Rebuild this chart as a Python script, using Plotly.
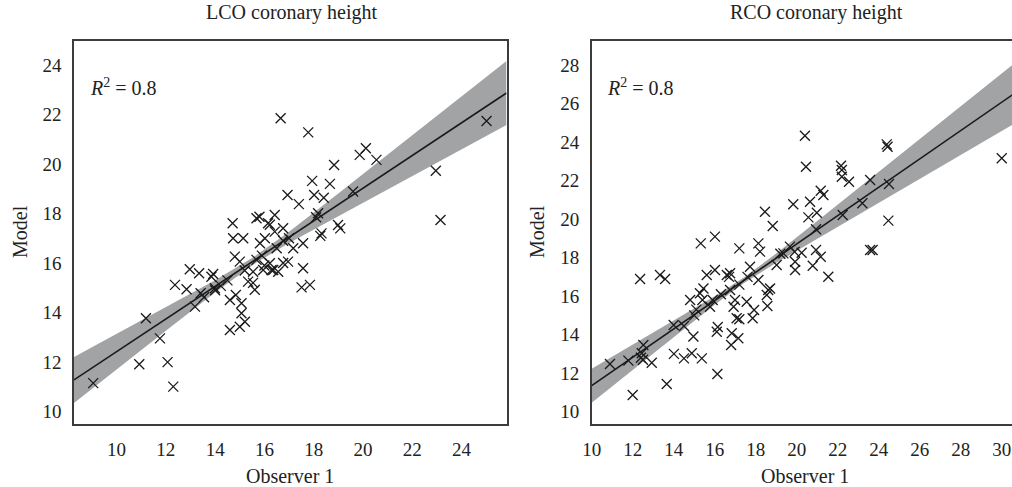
import plotly.graph_objects as go

# ---------------- data ----------------
lco_obs = [9.05, 10.92, 11.19, 11.76, 12.07, 12.30, 12.37, 12.84, 12.97, 13.35,
           13.18, 13.41, 13.55, 13.92, 13.85, 13.99, 14.23, 14.60, 14.60, 14.73,
           14.71, 14.80, 14.84, 15.00, 15.07, 15.07, 15.21, 15.14, 15.00, 15.34,
           15.61, 15.54, 15.68, 15.80, 15.95, 15.82, 16.02, 16.15, 16.22, 16.36,
           16.42, 16.42, 16.56, 16.66, 17.78, 25.02, 22.96, 23.15, 20.12, 19.87,
           20.55, 18.83, 17.94, 18.66, 19.60, 16.94, 17.40, 18.02, 18.41, 18.18,
           18.10, 16.22, 16.76, 18.99, 19.08, 18.32, 18.27, 16.96, 17.57, 17.17,
           16.76, 15.68, 16.76, 17.57, 16.29, 17.51, 17.85, 15.54, 16.00, 14.50,
           15.20, 15.90, 16.50, 17.00, 14.00]
lco_model = [11.15, 11.91, 13.77, 12.96, 12.00, 11.01, 15.12, 14.94, 15.75, 15.59,
             14.24, 14.78, 14.62, 15.56, 15.45, 14.98, 15.08, 13.30, 14.51, 17.00,
             17.61, 16.26, 14.71, 13.43, 14.38, 13.97, 13.63, 17.00, 16.06, 15.25,
             14.92, 15.65, 17.81, 17.87, 15.72, 16.80, 17.00, 17.61, 15.99, 15.72,
             17.94, 17.27, 15.65, 21.85, 21.28, 21.74, 19.73, 17.74, 20.64, 20.37,
             20.17, 19.96, 19.32, 19.20, 18.89, 18.75, 18.38, 18.75, 18.64, 18.01,
             17.85, 17.55, 17.41, 17.54, 17.40, 17.20, 17.10, 16.06, 16.80, 16.60,
             16.90, 16.13, 16.00, 15.79, 15.72, 15.02, 15.12, 15.20, 15.90, 15.30,
             15.70, 16.30, 16.60, 17.00, 14.90]

rco_obs = [10.89, 12.00, 11.79, 12.36, 12.44, 12.52, 12.40, 12.50, 12.93, 13.33,
           13.58, 13.66, 14.01, 14.50, 14.88, 15.37, 14.50, 14.96, 14.80, 15.00,
           15.32, 15.28, 15.45, 15.40, 15.61, 16.01, 16.01, 16.10, 16.15, 16.13,
           15.90, 15.77, 16.59, 16.70, 16.80, 16.83, 17.15, 16.99, 16.92, 17.07,
           17.20, 17.20, 16.75, 17.20, 17.56, 17.92, 17.85, 18.13, 18.21, 18.13,
           17.72, 18.45, 18.54, 18.57, 20.40, 20.45, 24.39, 24.43, 30.00, 22.16,
           22.20, 22.20, 22.55, 23.58, 24.50, 21.17, 21.30, 19.83, 20.65, 20.98,
           20.57, 23.20, 22.24, 24.47, 18.83, 20.94, 19.67, 19.35, 20.24, 20.94,
           21.17, 20.78, 21.54, 19.92, 19.92, 23.58, 23.70, 19.02, 18.61, 18.70,
           16.75, 19.90, 14.00, 15.10, 16.30, 17.60, 19.20]
rco_model = [12.48, 10.87, 12.65, 16.89, 13.03, 13.46, 12.80, 12.70, 12.54, 17.10,
             16.89, 11.44, 13.00, 12.77, 13.03, 12.77, 14.45, 13.90, 15.80, 15.00,
             18.74, 16.15, 16.40, 15.80, 17.10, 19.09, 17.36, 14.15, 14.40, 11.96,
             15.80, 15.45, 17.10, 17.00, 13.46, 14.07, 13.81, 15.80, 15.45, 14.85,
             14.80, 18.48, 16.32, 16.60, 15.71, 15.28, 14.85, 18.74, 18.31, 16.84,
             17.53, 20.38, 16.06, 15.49, 24.33, 22.72, 23.88, 23.76, 23.16, 22.77,
             22.55, 22.20, 21.94, 22.03, 21.82, 21.47, 21.25, 20.77, 20.90, 20.33,
             20.09, 20.82, 20.21, 19.92, 19.64, 19.47, 18.57, 18.22, 18.25, 18.40,
             18.05, 17.58, 17.01, 17.79, 17.36, 18.40, 18.40, 17.62, 16.32, 16.40,
             17.19, 18.30, 14.50, 15.30, 16.10, 17.00, 18.20]

# regression line and confidence band
lco_fit_x = [8.27, 10, 12, 14, 15.6, 17, 19, 21, 23, 25.83]
lco_fit_y = [11.28, 12.42, 13.74, 15.06, 16.12, 17.04, 18.36, 19.68, 21.00, 22.87]
lco_ci_hi = [12.21, 13.14, 14.21, 15.31, 16.27, 17.27, 18.81, 20.37, 21.94, 24.16]
lco_ci_lo = [10.35, 11.70, 13.27, 14.81, 15.97, 16.81, 17.91, 18.99, 20.06, 21.58]

rco_fit_x = [10, 12, 14, 16, 17.4, 19, 21, 23, 25, 27, 29, 30.8]
rco_fit_y = [11.35, 12.82, 14.29, 15.77, 16.80, 17.97, 19.45, 20.92, 22.39, 23.86, 25.33, 26.66]
rco_ci_hi = [12.23, 13.47, 14.72, 15.99, 16.95, 18.21, 19.90, 21.60, 23.30, 25.00, 26.70, 28.24]
rco_ci_lo = [10.47, 12.17, 13.86, 15.55, 16.65, 17.73, 19.00, 20.25, 21.48, 22.72, 23.96, 25.08]

titles = ["LCO coronary height", "RCO coronary height"]
r2_text = "<i>R</i><sup>2</sup> = 0.8"
lco_xticks = [10, 12, 14, 16, 18, 20, 22, 24]
lco_yticks = [10, 12, 14, 16, 18, 20, 22, 24]
rco_xticks = [10, 12, 14, 16, 18, 20, 22, 24, 26, 28, 30]
rco_yticks = [10, 12, 14, 16, 18, 20, 22, 24, 26, 28]

# ---------------- figure ----------------
W, H = 1012, 487
FONT = "Liberation Serif"
BAND = "#a2a3a5"
INK = "#1a1a1a"
FRAME = "#3c3c3c"

fig = go.Figure()

def add_panel(fx, fy, hi, lo, ox, om, xa, ya):
    fig.add_trace(go.Scatter(x=fx + fx[::-1], y=hi + lo[::-1], fill="toself",
                             fillcolor=BAND, line=dict(width=0), mode="lines",
                             hoverinfo="skip", showlegend=False, xaxis=xa, yaxis=ya))
    fig.add_trace(go.Scatter(x=fx, y=fy, mode="lines", line=dict(color=INK, width=1.6),
                             showlegend=False, xaxis=xa, yaxis=ya))
    fig.add_trace(go.Scatter(x=ox, y=om, mode="markers",
                             marker=dict(symbol="x-thin", size=10, color=INK,
                                         line=dict(color=INK, width=1.3)),
                             showlegend=False, xaxis=xa, yaxis=ya, cliponaxis=False))

add_panel(lco_fit_x, lco_fit_y, lco_ci_hi, lco_ci_lo, lco_obs, lco_model, "x", "y")
add_panel(rco_fit_x, rco_fit_y, rco_ci_hi, rco_ci_lo, rco_obs, rco_model, "x2", "y2")

def px(v):
    return v / W

def py(v):
    return 1 - v / H

top, bot = 41, 424
axis_common = dict(showgrid=False, zeroline=False, ticks="outside", ticklen=7,
                   tickcolor="rgba(0,0,0,0)", tickfont=dict(family=FONT, size=19, color="#222"),
                   linecolor=FRAME, linewidth=1.5, showline=True, automargin=False)

fig.update_layout(
    width=W, height=H, margin=dict(l=0, r=0, t=0, b=0),
    paper_bgcolor="white", plot_bgcolor="white",
    xaxis=dict(domain=[px(74), px(506.5)], range=[8.27, 25.83], tickvals=lco_xticks,
               mirror=True, anchor="y", **axis_common),
    yaxis=dict(domain=[py(bot), py(top)], range=[9.50, 24.97], tickvals=lco_yticks,
               mirror=True, anchor="x", **axis_common),
    xaxis2=dict(domain=[px(591.7), 1.0], range=[10, 30.5], tickvals=rco_xticks,
                mirror=True, anchor="y2", **axis_common),
    yaxis2=dict(domain=[py(bot), py(top)], range=[9.36, 29.25], tickvals=rco_yticks,
                mirror=False, anchor="x2", **axis_common),
)

ann_font = dict(family=FONT, size=20, color="#222")
anns = [
    dict(text=titles[0], x=px(292), y=py(12)),
    dict(text=titles[1], x=px(816), y=py(12)),
    dict(text="Observer 1", x=px(290), y=py(476)),
    dict(text="Observer 1", x=px(805), y=py(476)),
    dict(text="Model", x=px(20), y=py(232), textangle=-90),
    dict(text="Model", x=px(537), y=py(232), textangle=-90),
]
for a in anns:
    fig.add_annotation(xref="paper", yref="paper", showarrow=False, font=ann_font,
                       xanchor="center", yanchor="middle", **a)
for xx in (88, 605):
    fig.add_annotation(xref="paper", yref="paper", x=px(xx), y=py(87), text=r2_text,
                       showarrow=False, font=dict(family=FONT, size=20, color="#222"),
                       xanchor="left", yanchor="middle")

fig.write_html("out.html", config={"displayModeBar": False},
               post_script="document.body.style.margin='0';document.body.style.overflow='hidden';")
